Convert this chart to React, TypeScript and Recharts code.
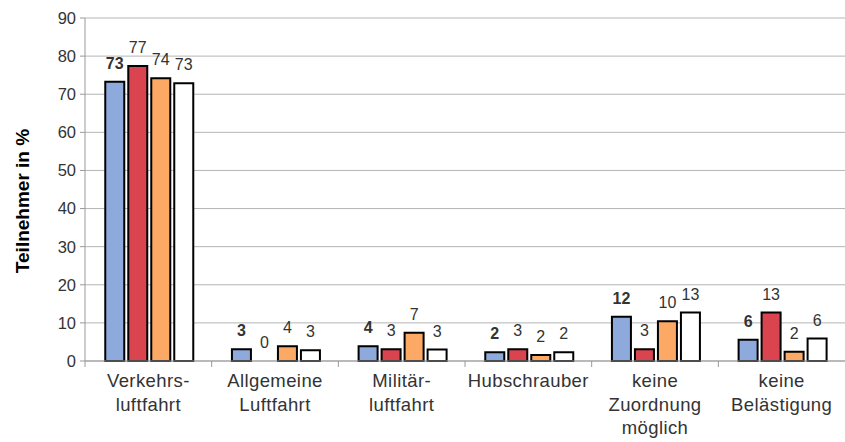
import React from "react";
import { Bar, BarChart, CartesianGrid, LabelList, XAxis, YAxis } from "recharts";

const categories = [
  ["Verkehrs-", "luftfahrt"],
  ["Allgemeine", "Luftfahrt"],
  ["Militär-", "luftfahrt"],
  ["Hubschrauber"],
  ["keine", "Zuordnung", "möglich"],
  ["keine", "Belästigung"],
];

const seriesA = [73.3, 3.1, 3.9, 2.3, 11.6, 5.6];
const seriesB = [77.4, 0, 3.1, 3.1, 3.1, 12.7];
const seriesC = [74.2, 3.9, 7.4, 1.6, 10.4, 2.4];
const seriesD = [72.9, 2.8, 3.0, 2.3, 12.7, 5.9];

const yTicks = [0, 10, 20, 30, 40, 50, 60, 70, 80, 90];

const data = categories.map((lines, i) => ({
  name: lines.join(" "),
  a: seriesA[i],
  b: seriesB[i],
  c: seriesC[i],
  d: seriesD[i],
}));

const FONT = "'Liberation Sans', Arial, sans-serif";
const TEXT = "#333";
const W = 845;
const H = 442;
const LEFT = 85;
const BAR_GAP = 4;
const BAND = (W - LEFT) / categories.length;

const CategoryTick = (props: any) => {
  const { x, y, index } = props;
  const lines = categories[index] || [];
  const bx = x - BAND / 2;
  return (
    <g>
      <line x1={bx} y1={y - 8} x2={bx} y2={y - 2} stroke="#999" />
      <text
        x={x}
        y={y + 18}
        textAnchor="middle"
        fill={TEXT}
        fontSize={18.5}
        letterSpacing={0.4}
        fontFamily={FONT}
      >
        {lines.map((l: string, k: number) => (
          <tspan key={k} x={x} dy={k === 0 ? 0 : 23.5}>
            {l}
          </tspan>
        ))}
      </text>
    </g>
  );
};

const valueText = (cx: number, y: number, v: number, bold: boolean, key?: string) => (
  <text
    key={key}
    x={cx}
    y={y - 13}
    textAnchor="middle"
    fill={TEXT}
    fontSize={16}
    fontWeight={bold ? "bold" : "normal"}
    fontFamily={FONT}
  >
    {String(Math.round(v))}
  </text>
);

// first series label; also writes the label of a zero-height red bar next to it,
// since Recharts gives no label entry for an empty bar
const labelA = (props: any) => {
  const { x, y, width, height, value, index } = props;
  const w = Number(width);
  const base = Number(y) + Number(height);
  return (
    <g>
      {valueText(Number(x) + w / 2, Number(y), Number(value), true, "a")}
      {seriesB[index] === 0 &&
        valueText(Number(x) + w * 1.5 + BAR_GAP, base, seriesB[index], false, "b0")}
    </g>
  );
};

const labelPlain = (props: any) => {
  const { x, y, width, value } = props;
  if (Number(value) === 0) return null;
  return valueText(Number(x) + Number(width) / 2, Number(y), Number(value), false);
};

export default function App() {
  return (
    <div style={{ position: "absolute", left: 0, top: 0, background: "#fff" }}>
      <BarChart
        width={W}
        height={H}
        data={data}
        margin={{ top: 18, right: 0, bottom: 0, left: 0 }}
        barCategoryGap="16%"
        barGap={BAR_GAP}
      >
        <CartesianGrid vertical={false} stroke="#b5b5b5" />
        <XAxis
          dataKey="name"
          height={81}
          stroke="#999"
          tickLine={false}
          tick={<CategoryTick />}
          interval={0}
        />
        <YAxis
          width={LEFT}
          domain={[0, 90]}
          ticks={yTicks}
          stroke="#999"
          tickSize={5}
          tickMargin={4}
          tick={{ fill: TEXT, fontSize: 16.5, fontFamily: FONT }}
          label={{
            content: () => (
              <text
                x={22}
                y={201}
                transform="rotate(-90, 22, 201)"
                textAnchor="middle"
                dominantBaseline="central"
                fontSize={19}
                fontWeight="bold"
                fill="#000"
                fontFamily={FONT}
              >
                Teilnehmer  in %
              </text>
            ),
          }}
        />
        <Bar dataKey="a" fill="#8eaadc" stroke="#000" strokeWidth={2} isAnimationActive={false}>
          <LabelList dataKey="a" content={labelA} />
        </Bar>
        <Bar dataKey="b" fill="#d9444f" stroke="#000" strokeWidth={2} isAnimationActive={false}>
          <LabelList dataKey="b" content={labelPlain} />
        </Bar>
        <Bar dataKey="c" fill="#fba964" stroke="#000" strokeWidth={2} isAnimationActive={false}>
          <LabelList dataKey="c" content={labelPlain} />
        </Bar>
        <Bar dataKey="d" fill="#ffffff" stroke="#000" strokeWidth={2} isAnimationActive={false}>
          <LabelList dataKey="d" content={labelPlain} />
        </Bar>
      </BarChart>
    </div>
  );
}
